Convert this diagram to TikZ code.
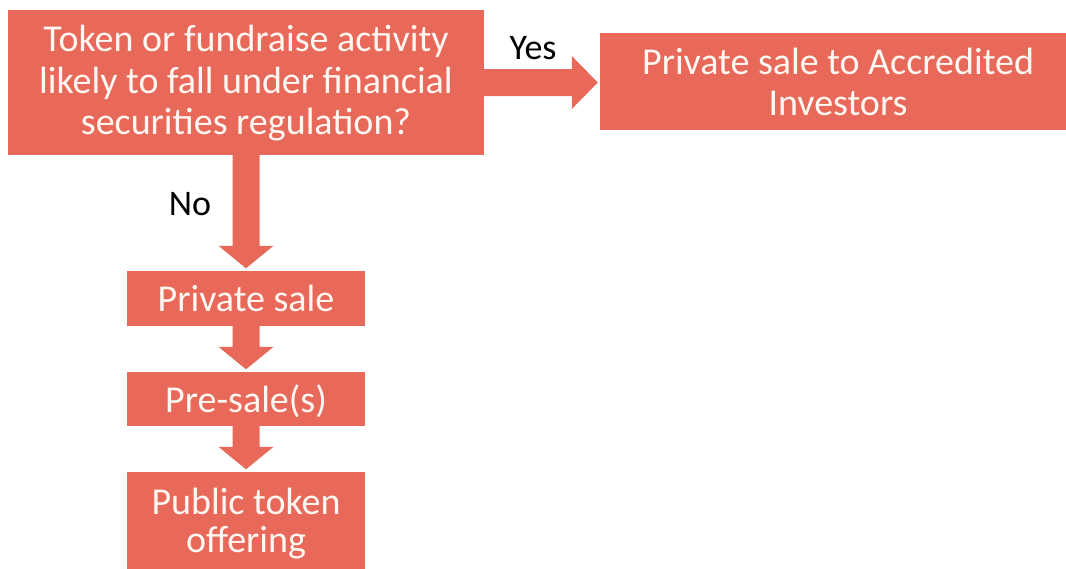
\documentclass[tikz,border=0pt]{standalone}
\usepackage{fontspec}
\setmainfont{Carlito}
\usetikzlibrary{calc}
\definecolor{boxred}{HTML}{E8685A}
\definecolor{boxtext}{HTML}{FFF8F2}
\newcommand\boxlines[2][5pt]{\raisebox{-#1}[\height][\depth]{\begin{tabular}{@{}c@{}}#2\end{tabular}}}
\newcommand\blockright[2]{%
  \fill[arrowfill] let \p1=(#1.east), \p2=(#2.west) in
    (\x1,\y1+13.5pt) -- (\x2-28pt,\y1+13.5pt) -- (\x2-28pt,\y1+26.5pt) --
    (\x2-2pt,\y1) -- (\x2-28pt,\y1-26.5pt) -- (\x2-28pt,\y1-13.5pt) --
    (\x1,\y1-13.5pt) -- cycle;}
\newcommand\blockdown[2]{%
  \fill[arrowfill] let \p1=(#1.south), \p2=(#2.north) in
    (\x1-13.5pt,\y1) -- (\x1-13.5pt,\y2+25pt) -- (\x1-27.5pt,\y2+25pt) --
    (\x1,\y2+2.5pt) -- (\x1+27.5pt,\y2+25pt) -- (\x1+13.5pt,\y2+25pt) --
    (\x1+13.5pt,\y1) -- cycle;}
\begin{document}
\begin{tikzpicture}[x=1pt,y=-1pt,
  box/.style={fill=boxred, text=boxtext, font=\fontsize{38}{41.5}\selectfont,
    inner sep=0pt},
  arrowfill/.style={fill=boxred},
  lbl/.style={text=black, font=\fontsize{36}{42}\selectfont, inner sep=0pt}]
\useasboundingbox (0,0) rectangle (1066,568);
\node[box, minimum width=476pt, minimum height=145pt] (q) at (246,82.5)
  {\boxlines[2.5pt]{Token or fundraise activity\\likely to fall under financial\\securities regulation?}};
\node[box, minimum width=476pt, minimum height=97pt] (acc) at (838,81.5)
  {\boxlines[5pt]{Private sale to Accredited\\Investors}};
\node[box, minimum width=238pt, minimum height=55pt] (priv) at (246,298.5)
  {\boxlines[5pt]{Private sale}};
\node[box, minimum width=238pt, minimum height=54pt] (pre) at (246,399)
  {\boxlines[5pt]{Pre-sale(s)}};
\node[box, minimum width=238pt, minimum height=120pt,
  font=\fontsize{38}{38}\selectfont] (pub) at (246,532)
  {\boxlines[-6pt]{Public token\\offering}};
\blockright{q}{acc}
\blockdown{q}{priv}
\blockdown{priv}{pre}
\blockdown{pre}{pub}
\node[lbl] (yes) at (533,48) {Yes};
\node[lbl] (no) at (190,204) {No};
\end{tikzpicture}
\end{document}
